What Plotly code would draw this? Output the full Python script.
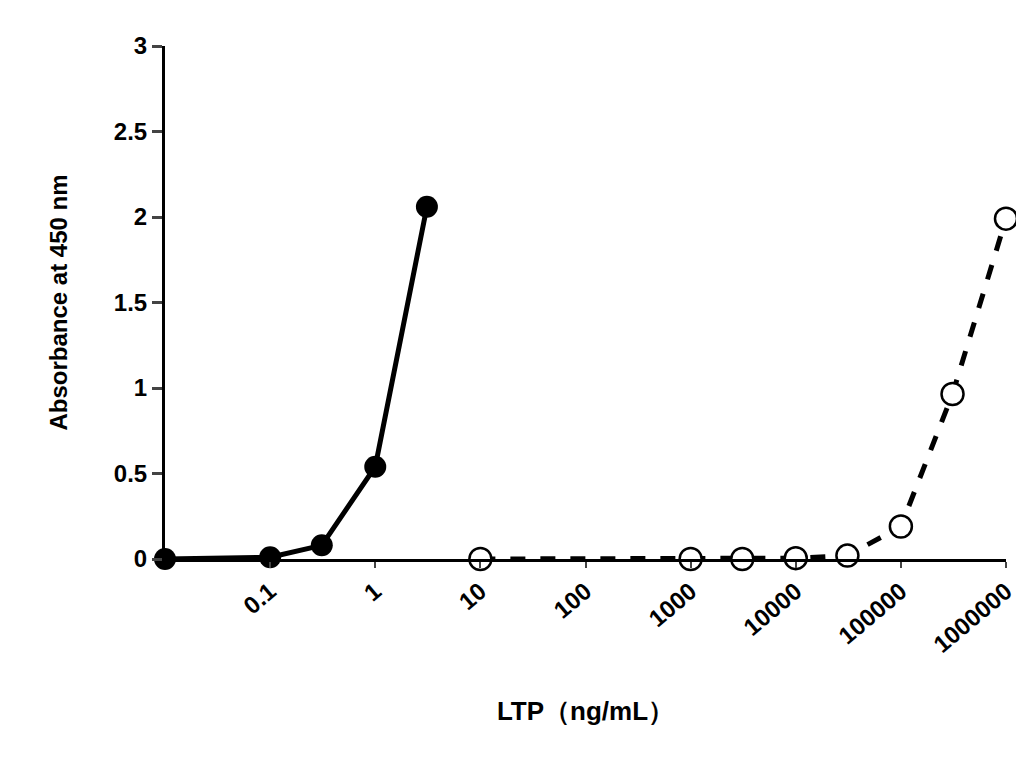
import plotly.graph_objects as go

# filled series (solid line)
x_filled = [0.01, 0.1, 0.31, 1, 3.1]
y_filled = [0.0, 0.01, 0.08, 0.54, 2.06]

# open series (dashed line)
x_open = [10, 1000, 3100, 10000, 31000, 100000, 310000, 1000000]
y_open = [0.0, 0.0, 0.0, 0.005, 0.02, 0.19, 0.965, 1.99]

x_ticks = [0.1, 1, 10, 100, 1000, 10000, 100000, 1000000]
x_labels = ["0.1", "1", "10", "100", "1000", "10000", "100000", "1000000"]
y_ticks = [0, 0.5, 1, 1.5, 2, 2.5, 3]
y_labels = ["0", "0.5", "1", "1.5", "2", "2.5", "3"]

fig = go.Figure()
fig.add_trace(go.Scatter(
    x=x_open, y=y_open, mode="lines+markers", cliponaxis=False,
    line=dict(color="black", width=5, dash="dash"),
    marker=dict(size=22, color="white", line=dict(color="black", width=2.5))))
fig.add_trace(go.Scatter(
    x=x_filled, y=y_filled, mode="lines+markers", cliponaxis=False,
    line=dict(color="black", width=5),
    marker=dict(size=22, color="black")))

tf = dict(family="Liberation Sans", size=24, color="black")
fig.update_layout(
    width=1024, height=763, showlegend=False,
    paper_bgcolor="white", plot_bgcolor="white",
    margin=dict(l=157, r=26, t=38, b=212),
    font=tf,
    xaxis=dict(type="log", range=[-2, 6], tickvals=x_ticks,
               ticktext=["<b>%s</b>" % s for s in x_labels],
               tickangle=-40, showgrid=False, zeroline=False,
               showline=True, linecolor="black", linewidth=3,
               ticks="outside", ticklen=6, tickwidth=2, tickfont=tf,
               title=dict(text="<b>LTP（ng/mL）</b>", standoff=45,
                          font=dict(family="Liberation Sans", size=26))),
    yaxis=dict(range=[0, 3], tickvals=y_ticks,
               ticktext=["<b>%s</b>" % s for s in y_labels],
               showgrid=False, zeroline=False,
               showline=True, linecolor="black", linewidth=3,
               ticks="outside", ticklen=10, tickwidth=3, tickfont=tf,
               title=dict(text="<b>Absorbance at 450 nm</b>", standoff=40,
                          font=dict(family="Liberation Sans", size=24))),
)

fig.write_html("out.html")
